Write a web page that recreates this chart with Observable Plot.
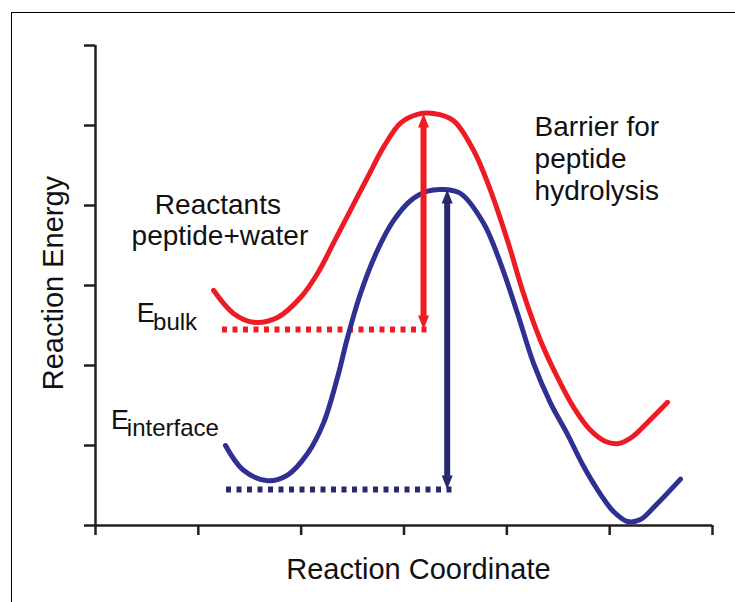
<!DOCTYPE html>
<html>
<head>
<meta charset="utf-8">
<script src="https://cdn.jsdelivr.net/npm/d3@7"></script>
<script src="https://cdn.jsdelivr.net/npm/@observablehq/plot@0.6"></script>
<style>
  body { margin: 0; background: #fff; }
  #wrap { position: relative; width: 735px; height: 602px; overflow: hidden; }
  #border { position: absolute; left: 11px; top: 12px; right: -5px; bottom: -5px;
            border-top: 1.5px solid #000; border-left: 1.5px solid #000; pointer-events: none; }
</style>
</head>
<body>
<div id="wrap"><div id="border"></div></div>
<script>
// Reaction energy profile in bulk water (red)
const bulkX = [1.148, 1.342, 1.537, 1.770, 1.994, 2.159, 2.314, 2.479, 2.645, 2.801, 2.966, 3.131, 3.287, 3.482, 3.676, 3.841, 4.007, 4.162, 4.328, 4.493, 4.648, 4.814, 4.960, 5.086, 5.222, 5.378, 5.563];
const bulkY = [2.94, 2.65, 2.54, 2.60, 2.85, 3.15, 3.53, 3.94, 4.35, 4.73, 5.03, 5.14, 5.15, 5.06, 4.69, 4.19, 3.56, 2.90, 2.31, 1.85, 1.48, 1.19, 1.05, 1.025, 1.11, 1.30, 1.54];
// Reaction energy profile at the interface (blue)
const interX = [1.264, 1.439, 1.673, 1.867, 2.062, 2.217, 2.353, 2.451, 2.577, 2.742, 2.898, 3.063, 3.229, 3.384, 3.550, 3.773, 3.938, 4.104, 4.259, 4.425, 4.590, 4.746, 4.911, 5.037, 5.174, 5.300, 5.446, 5.689];
const interY = [1.00, 0.69, 0.56, 0.63, 0.90, 1.28, 1.85, 2.35, 2.90, 3.44, 3.81, 4.06, 4.18, 4.20, 4.15, 3.78, 3.28, 2.65, 2.03, 1.53, 1.14, 0.74, 0.39, 0.175, 0.05, 0.075, 0.25, 0.58];
// Reactant energy levels (dotted) : [level, xStart, xEnd]
const levelBulk = [2.45, 1.235, 3.258];
const levelInter = [0.45, 1.274, 3.48];
// Barrier arrows : [x, low, high]
const barrierBulk = [3.19, 2.45, 5.15];
const barrierInter = [3.42, 0.45, 4.20];
// Axis ticks
const xTicks = [0, 1, 2, 3, 4, 5, 6];
const yTicks = [0, 1, 2, 3, 4, 5, 6];

const RED = "#ed1c24", BLUE = "#2e3192", NAVY = "#27296d", INK = "#231f20", TXT = "#111";
const FONT = "Liberation Sans, Arial, Helvetica, sans-serif";

const bulk = bulkX.map((x, i) => ({x, y: bulkY[i]}));
const inter = interX.map((x, i) => ({x, y: interY[i]}));
const levels = [
  {y: levelBulk[0], x1: levelBulk[1], x2: levelBulk[2], c: RED},
  {y: levelInter[0], x1: levelInter[1], x2: levelInter[2], c: NAVY}
];
const arrows = [
  {x: barrierBulk[0], lo: barrierBulk[1], hi: barrierBulk[2], c: RED},
  {x: barrierInter[0], lo: barrierInter[1], hi: barrierInter[2], c: NAVY}
];
const reactantLabels = [
  {t: "Reactants", x: 1.19, y: 3.90},
  {t: "peptide+water", x: 1.21, y: 3.51}
];
const barrierLabels = [
  {t: "Barrier for", x: 4.27, y: 4.875},
  {t: "peptide", x: 4.27, y: 4.475},
  {t: "hydrolysis", x: 4.27, y: 4.075}
];
const eLabels = [
  {t: "E", x: 0.40, y: 2.54},
  {t: "E", x: 0.15, y: 1.21}
];
const subLabels = [
  {t: "bulk", x: 0.56, y: 2.44},
  {t: "interface", x: 0.305, y: 1.125}
];

// arrow-head glyph: tip at the origin, pointing up
const head = {draw(ctx) { ctx.moveTo(0, 0); ctx.lineTo(-5.5, 14); ctx.lineTo(5.5, 14); ctx.closePath(); }};

const chart = Plot.plot({
  width: 735,
  height: 602,
  marginLeft: 95,
  marginRight: 23,
  marginTop: 45,
  marginBottom: 77,
  style: {fontFamily: FONT, background: "transparent", overflow: "visible"},
  x: {domain: [0, 6], axis: null},
  y: {domain: [0, 6], axis: null},
  marks: [
    Plot.axisX({ticks: xTicks, tickFormat: () => "", tickSize: 10, strokeWidth: 2.5, stroke: INK, label: null}),
    Plot.axisY({ticks: yTicks, tickFormat: () => "", tickSize: 11, strokeWidth: 2.5, stroke: INK, label: null}),
    Plot.ruleX([0], {stroke: INK, strokeWidth: 2.5}),
    Plot.ruleY([0], {stroke: INK, strokeWidth: 2.5}),
    Plot.ruleY(levels, {y: "y", x1: "x1", x2: "x2", stroke: "c", strokeWidth: 6, strokeDasharray: "5,5.5"}),
    Plot.line(bulk, {x: "x", y: "y", curve: "catmull-rom", stroke: RED, strokeWidth: 5, strokeLinecap: "round"}),
    Plot.line(inter, {x: "x", y: "y", curve: "catmull-rom", stroke: BLUE, strokeWidth: 5, strokeLinecap: "round"}),
    Plot.ruleX(arrows, {x: "x", y1: "hi", y2: "lo", stroke: "c", strokeWidth: 6, insetTop: 11, insetBottom: 11}),
    Plot.dot(arrows, {x: "x", y: "hi", symbol: head, fill: "c", stroke: "none", rotate: 0}),
    Plot.dot(arrows, {x: "x", y: "lo", symbol: head, fill: "c", stroke: "none", rotate: 180}),
    Plot.text(reactantLabels, {x: "x", y: "y", text: "t", textAnchor: "middle", lineAnchor: "bottom", fontSize: 28, fill: TXT}),
    Plot.text(barrierLabels, {x: "x", y: "y", text: "t", textAnchor: "start", lineAnchor: "bottom", fontSize: 28, fill: TXT}),
    Plot.text(eLabels, {x: "x", y: "y", text: "t", textAnchor: "start", lineAnchor: "bottom", fontSize: 27, fill: TXT}),
    Plot.text(subLabels, {x: "x", y: "y", text: "t", textAnchor: "start", lineAnchor: "bottom", fontSize: 24, fill: TXT}),
    Plot.text(["Reaction Coordinate"], {x: 3.14, y: -0.6625, text: d => d, textAnchor: "middle", lineAnchor: "bottom", fontSize: 29, fill: TXT}),
    Plot.text(["Reaction Energy"], {x: -0.41, y: 3.03, text: d => d, rotate: -90, textAnchor: "middle", lineAnchor: "middle", fontSize: 29, fill: TXT})
  ]
});
document.getElementById("wrap").prepend(chart);
</script>
</body>
</html>
